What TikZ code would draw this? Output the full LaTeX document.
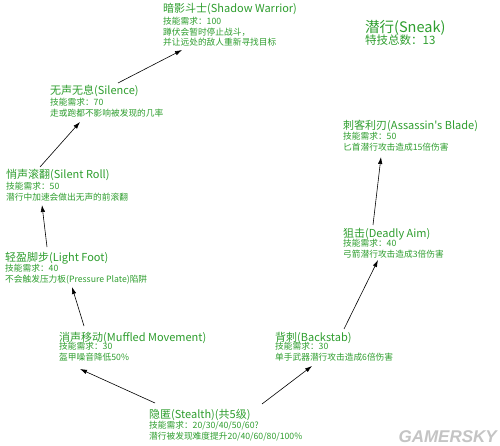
\documentclass[tikz,border=0pt]{standalone}
\usepackage{fontspec}
\newfontfamily\cjkfont{Noto Sans CJK SC}
\newfontfamily\markfont{Liberation Sans}
\usetikzlibrary{arrows.meta}
\definecolor{sneakgreen}{HTML}{2E9E2E}
\definecolor{markgray}{HTML}{C4C4C4}

\begin{document}
\begin{tikzpicture}[
    x=1pt, y=-1pt,
    skilltitle/.style={anchor=base west, inner sep=0pt, text=sneakgreen, font=\cjkfont\fontsize{11}{13}\selectfont},
    skilldesc/.style={anchor=north west, inner sep=0pt, text=sneakgreen, align=left, font=\cjkfont\fontsize{8.7}{10.7}\selectfont},
    arrow/.style={-{Latex[length=7pt, width=4.5pt]}, semithick},
]

\fill[white] (0,0) rectangle (500,446);
\useasboundingbox (0,0) rectangle (500,446);

% Title
\node[anchor=base west, inner sep=0pt, text=sneakgreen, font=\cjkfont\fontsize{14.5}{16}\selectfont] (sneak) at (365,33) {潜行(Sneak)};
\node[anchor=base west, inner sep=0pt, text=sneakgreen, font=\cjkfont\fontsize{11.5}{13}\selectfont] (sneak-d) at (365,45) {特技总数：13};

% Skill nodes
\node[skilltitle] (stealth) at (149,418) {隐匿(Stealth)(共5级)};
\node[skilldesc] (stealth-d) at (149,420.9) {技能需求：20/30/40/50/60?\\潜行被发现难度提升20/40/60/80/100\%};

\node[skilltitle] (muffled) at (59,341) {消声移动(Muffled Movement)};
\node[skilldesc] (muffled-d) at (59,342.4) {技能需求：30\\盔甲噪音降低50\%};

\node[skilltitle] (backstab) at (275,341) {背刺(Backstab)};
\node[skilldesc] (backstab-d) at (275,342.4) {技能需求：30\\单手武器潜行攻击造成6倍伤害};

\node[skilltitle] (foot) at (5,261) {轻盈脚步(Light Foot)};
\node[skilldesc] (foot-d) at (5,263.9) {技能需求：40\\不会触发压力板(Pressure Plate)陷阱};

\node[skilltitle] (aim) at (343,237) {狙击(Deadly Aim)};
\node[skilldesc] (aim-d) at (343,238.9) {技能需求：40\\弓箭潜行攻击造成3倍伤害};

\node[skilltitle] (roll) at (6,179) {悄声滚翻(Silent Roll)};
\node[skilldesc] (roll-d) at (6,181.9) {技能需求：50\\潜行中加速会做出无声的前滚翻};

\node[skilltitle] (blade) at (343,130) {刺客利刃(Assassin's Blade)};
\node[skilldesc] (blade-d) at (343,131.9) {技能需求：50\\匕首潜行攻击造成15倍伤害};

\node[skilltitle] (silence) at (50,95) {无声无息(Silence)};
\node[skilldesc] (silence-d) at (50,97.9) {技能需求：70\\走或跑都不影响被发现的几率};

\node[skilltitle] (shadow) at (163,13) {暗影斗士(Shadow Warrior)};
\node[skilldesc] (shadow-d) at (163,16.9) {技能需求：100\\蹲伏会暂时停止战斗，\\并让远处的敌人重新寻找目标};

% Arrows
\draw[arrow] ([shift={(6,-15)}]stealth.base west) -- ([shift={(21,28)}]muffled.base west);
\draw[arrow] ([shift={(113,-14)}]stealth.base west) -- ([shift={(37,25)}]backstab.base west);
\draw[arrow] ([shift={(69,-12)}]backstab.base west) -- ([shift={(35,23)}]aim.base west);
\draw[arrow] ([shift={(30,-12)}]aim.base west) -- ([shift={(38,27)}]blade.base west);
\draw[arrow] ([shift={(25,-15)}]muffled.base west) -- ([shift={(67,26)}]foot.base west);
\draw[arrow] ([shift={(42,-14)}]foot.base west) -- ([shift={(36,26)}]roll.base west);
\draw[arrow] ([shift={(34,-12)}]roll.base west) -- ([shift={(30,27)}]silence.base west);
\draw[arrow] ([shift={(68,-12)}]silence.base west) -- ([shift={(19,37)}]shadow.base west);

% Watermark
\node[anchor=base east, inner sep=0pt, text=markgray, font=\markfont\bfseries\itshape\fontsize{17}{17}\selectfont] (watermark) at (497,442) {GAMERSKY};

\end{tikzpicture}
\end{document}
